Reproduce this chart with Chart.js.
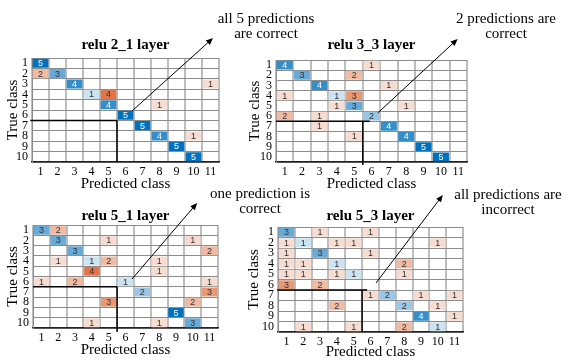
<!DOCTYPE html>
<html>
<head>
<meta charset="utf-8">
<script src="https://cdn.jsdelivr.net/npm/chart.js@4.4.0/dist/chart.umd.min.js"></script>
<style>
body{margin:0;background:#fff;}
#fig{position:relative;width:573px;height:361px;overflow:hidden;font-family:"Liberation Serif","Times New Roman",serif;}
#fig canvas{position:absolute;}
.note{position:absolute;font-size:15px;line-height:15px;text-align:center;color:#000;white-space:nowrap;transform:translateX(-50%);}
</style>
</head>
<body>
<div id="fig">
<canvas id="chjs_chart0" width="240" height="195" style="left:0px;top:0px"></canvas>
<canvas id="chjs_chart1" width="328" height="195" style="left:245px;top:0px"></canvas>
<canvas id="chjs_chart2" width="240" height="171" style="left:0px;top:190px"></canvas>
<canvas id="chjs_chart3" width="328" height="171" style="left:245px;top:190px"></canvas>
<div class="note" style="left:266px;top:11px">all 5 predictions<br>are correct</div>
<div class="note" style="left:506px;top:11px">2 predictions are<br>correct</div>
<div class="note" style="left:260px;top:186px">one prediction is<br>correct</div>
<div class="note" style="left:508px;top:187px">all predictions are<br>incorrect</div>
</div>
<script>
// classes
const true_classes = ['1','2','3','4','5','6','7','8','9','10'];
const pred_classes = ['1','2','3','4','5','6','7','8','9','10','11'];

// counts, rows = true class, cols = predicted class
const relu2_1 = [
    [5,0,0,0,0,0,0,0,0,0,0],
    [2,3,0,0,0,0,0,0,0,0,0],
    [0,0,4,0,0,0,0,0,0,0,1],
    [0,0,0,1,4,0,0,0,0,0,0],
    [0,0,0,0,4,0,0,1,0,0,0],
    [0,0,0,0,0,5,0,0,0,0,0],
    [0,0,0,0,0,0,5,0,0,0,0],
    [0,0,0,0,0,0,0,4,0,1,0],
    [0,0,0,0,0,0,0,0,5,0,0],
    [0,0,0,0,0,0,0,0,0,5,0]
];
const relu3_3 = [
    [4,0,0,0,0,1,0,0,0,0,0],
    [0,3,0,0,2,0,0,0,0,0,0],
    [0,0,4,0,0,0,1,0,0,0,0],
    [1,0,0,1,3,0,0,0,0,0,0],
    [0,0,0,1,3,0,0,1,0,0,0],
    [2,0,1,0,0,2,0,0,0,0,0],
    [0,0,1,0,0,0,4,0,0,0,0],
    [0,0,0,0,1,0,0,4,0,0,0],
    [0,0,0,0,0,0,0,0,5,0,0],
    [0,0,0,0,0,0,0,0,0,5,0]
];
const relu5_1 = [
    [3,2,0,0,0,0,0,0,0,0,0],
    [0,3,0,0,1,0,0,0,0,1,0],
    [0,0,3,0,0,0,0,0,0,0,2],
    [0,1,0,1,2,0,0,1,0,0,0],
    [0,0,0,4,0,0,0,1,0,0,0],
    [1,0,2,0,0,1,0,0,0,0,1],
    [0,0,0,0,0,0,2,0,0,0,3],
    [0,0,0,0,3,0,0,0,0,2,0],
    [0,0,0,0,0,0,0,0,5,0,0],
    [0,0,0,1,0,0,0,1,0,3,0]
];
const relu5_3 = [
    [3,0,1,0,0,1,0,0,0,0,0],
    [1,1,0,1,1,0,0,0,0,1,0],
    [1,0,3,0,0,1,0,0,0,0,0],
    [1,1,0,1,0,0,0,2,0,0,0],
    [1,1,0,1,1,0,0,1,0,0,0],
    [3,0,2,0,0,0,0,0,0,0,0],
    [0,0,0,0,0,1,2,0,1,0,1],
    [0,0,0,2,0,0,0,2,0,1,0],
    [0,0,0,0,0,0,0,0,4,0,1],
    [0,1,0,0,1,0,0,2,0,1,0]
];
const layer_names = ['relu 2_1 layer','relu 3_3 layer','relu 5_1 layer','relu 5_3 layer'];
const max_count = 5;

const serif = '"Liberation Serif", "Times New Roman", serif';

function cell_color(v, diag){
    const base = diag ? [0,114,189] : [217,83,25];
    const t = v / max_count;
    const c = base.map(b => Math.round(255 + (b - 255) * t));
    return 'rgb(' + c.join(',') + ')';
}

function build_cells(matrix){
    const cells = [];
    matrix.forEach((row, r) => row.forEach((v, c) => {
        if (v > 0) cells.push({x: pred_classes[c], y: [r + 0.5, r + 1.5], v: v, diag: r === c});
    }));
    return cells;
}

// numbers inside the cells
const cell_labels = {
    id: 'cell_labels',
    afterDatasetsDraw(chart){
        const ctx = chart.ctx;
        const ds = chart.data.datasets[0];
        ctx.save();
        ctx.font = '9px "Liberation Sans", Arial, sans-serif';
        ctx.textAlign = 'center';
        ctx.textBaseline = 'middle';
        chart.getDatasetMeta(0).data.forEach((bar, i) => {
            const raw = ds.data[i];
            const p = bar.getCenterPoint();
            ctx.fillStyle = (raw.diag && raw.v >= 4) ? '#fff' : '#333';
            ctx.fillText(String(raw.v), p.x, p.y + 0.5);
        });
        ctx.restore();
    }
};

// black guide lines + arrow to the note
const guide_lines = {
    id: 'guide_lines',
    afterDraw(chart, args, o){
        const xs = chart.scales.x, ys = chart.scales.y;
        const px = c => xs.getPixelForValue(c - 1);
        const py = r => ys.getPixelForValue(r);
        const ctx = chart.ctx;
        ctx.save();
        ctx.strokeStyle = '#000';
        ctx.lineWidth = 1.5;
        ctx.beginPath();
        ctx.moveTo(px(o.h_from), py(o.row_edge));
        ctx.lineTo(px(o.h_to), py(o.row_edge));
        ctx.moveTo(px(o.col_edge), py(o.row_edge));
        ctx.lineTo(px(o.col_edge), py(o.v_to));
        ctx.stroke();
        const x0 = px(o.arrow_from[0]), y0 = py(o.arrow_from[1]);
        const x1 = px(o.arrow_to[0]), y1 = py(o.arrow_to[1]);
        const a = Math.atan2(y1 - y0, x1 - x0);
        ctx.lineWidth = 1;
        ctx.beginPath();
        ctx.moveTo(x0, y0);
        ctx.lineTo(x1 - 5 * Math.cos(a), y1 - 5 * Math.sin(a));
        ctx.stroke();
        ctx.fillStyle = '#000';
        ctx.beginPath();
        ctx.moveTo(x1, y1);
        ctx.lineTo(x1 - 7 * Math.cos(a) + 3 * Math.sin(a), y1 - 7 * Math.sin(a) - 3 * Math.cos(a));
        ctx.lineTo(x1 - 7 * Math.cos(a) - 3 * Math.sin(a), y1 - 7 * Math.sin(a) + 3 * Math.cos(a));
        ctx.closePath();
        ctx.fill();
        ctx.restore();
    }
};

class ConfusionPanel{
    constructor(canvas_id, title, matrix, frame, guide){
        this.canvas_id = canvas_id;
        this.title = title;
        this.matrix = matrix;
        this.frame = frame;
        this.guide = guide;
    }

    build_chart(){
        const f = this.frame;
        new Chart(document.getElementById(this.canvas_id), {
            type: 'bar',
            data: {
                labels: pred_classes,
                datasets: [{
                    data: build_cells(this.matrix),
                    backgroundColor: c => cell_color(c.raw.v, c.raw.diag),
                    borderColor: 'rgba(255,255,255,0)',
                    borderWidth: 1,
                    borderSkipped: false,
                    barPercentage: 1,
                    categoryPercentage: 1
                }]
            },
            options: {
                responsive: false,
                animation: false,
                layout: {padding: {top: f.pad_top, right: f.pad_right, bottom: 0, left: 0}},
                plugins: {
                    legend: {display: false},
                    tooltip: {enabled: false},
                    title: {
                        display: true, text: this.title, fullSize: false, color: '#000',
                        font: {family: serif, size: 15, weight: 'bold', lineHeight: 1.2},
                        padding: {top: 0, bottom: f.title_gap}
                    },
                    guide_lines: this.guide
                },
                scales: {
                    x: {
                        type: 'category',
                        offset: true,
                        grid: {offset: true, drawTicks: false, color: '#bdbdbd', lineWidth: 2},
                        border: {color: '#222', width: 1.5},
                        ticks: {font: {family: serif, size: 12}, color: '#000', padding: 3, maxRotation: 0, autoSkip: false},
                        title: {display: true, text: 'Predicted class', color: '#000',
                            font: {family: serif, size: 15, lineHeight: 1.2}, padding: {top: 0, bottom: f.xtitle_pad}},
                        afterFit: s => { s.height = f.x_height; }
                    },
                    y: {
                        type: 'linear', min: 0.5, max: 10.5, reverse: true,
                        afterBuildTicks: s => {
                            const t = [];
                            for (let v = 0.5; v <= 10.5; v += 0.5) t.push({value: v});
                            s.ticks = t;
                        },
                        grid: {drawTicks: false, lineWidth: 1,
                            color: c => Number.isInteger(c.tick.value) ? 'rgba(0,0,0,0)' : '#8c8c8c'},
                        border: {color: '#8c8c8c', width: 1},
                        ticks: {font: {family: serif, size: 12}, color: '#000', padding: 4, autoSkip: false,
                            callback: v => Number.isInteger(v) ? true_classes[v - 1] : ''},
                        title: {display: true, text: 'True class', color: '#000',
                            font: {family: serif, size: 15, lineHeight: 1.2}, padding: {top: f.ytitle_pad, bottom: 0}},
                        afterFit: s => { s.width = f.y_width; }
                    }
                }
            },
            plugins: [cell_labels, guide_lines]
        });
    }
}

const panels = [
    new ConfusionPanel('chjs_chart0', layer_names[0], relu2_1,
        {pad_top: 36, pad_right: 21, title_gap: 4, x_height: 33, xtitle_pad: 2, y_width: 32, ytitle_pad: 4},
        {row_edge: 6.5, h_from: 0.4, h_to: 5.5, col_edge: 5.5, v_to: 10.5, arrow_from: [6.38, 5.6], arrow_to: [11.15, -1.42]}),
    new ConfusionPanel('chjs_chart1', layer_names[1], relu3_3,
        {pad_top: 36, pad_right: 106, title_gap: 6, x_height: 33, xtitle_pad: 2, y_width: 31, ytitle_pad: 1},
        {row_edge: 6.5, h_from: 0.5, h_to: 5.9, col_edge: 5.5, v_to: 10.8, arrow_from: [6.36, 5.7], arrow_to: [10.96, -1.56]}),
    new ConfusionPanel('chjs_chart2', layer_names[2], relu5_1,
        {pad_top: 17, pad_right: 22, title_gap: 0, x_height: 33, xtitle_pad: 2, y_width: 33, ytitle_pad: 4},
        {row_edge: 6.5, h_from: 0.5, h_to: 5.5, col_edge: 5.5, v_to: 10.9, arrow_from: [6.39, 5.74], arrow_to: [10.26, -1.64]}),
    new ConfusionPanel('chjs_chart3', layer_names[3], relu5_3,
        {pad_top: 17, pad_right: 110, title_gap: 2, x_height: 29, xtitle_pad: 0, y_width: 33, ytitle_pad: 0},
        {row_edge: 6.5, h_from: 0.45, h_to: 5.8, col_edge: 5.5, v_to: 10.5, arrow_from: [6.33, 5.83], arrow_to: [10.3, -2.55]})
];

for (let i = 0; i < panels.length; i++){
    panels[i].build_chart();
}
</script>
</body>
</html>
